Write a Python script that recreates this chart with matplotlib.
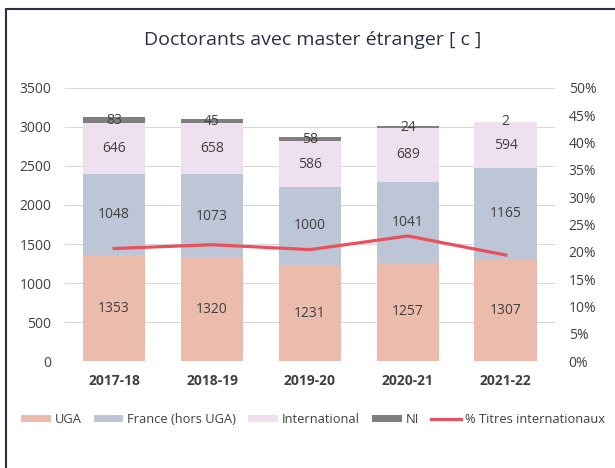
import matplotlib.pyplot as plt
from matplotlib.patches import Rectangle
import numpy as np

plt.rcParams['font.family'] = ['Open Sans', 'DejaVu Sans']

years = ['2017-18', '2018-19', '2019-20', '2020-21', '2021-22']
uga = [1353, 1320, 1231, 1257, 1307]
france = [1048, 1073, 1000, 1041, 1165]
international = [646, 658, 586, 689, 594]
ni = [83, 45, 58, 24, 2]
pct_intl = [0.206, 0.213, 0.204, 0.229, 0.194]

c_uga = '#ebbbab'
c_fr = '#bcc6d6'
c_int = '#eee0ee'
c_ni = '#7f7f7f'
c_line = '#e8505b'
txt = '#404040'

fig = plt.figure(figsize=(6.15, 4.68), dpi=100)
ax = fig.add_axes([0.106, 0.2286, 0.796, 0.5834])

x = np.arange(len(years))
w = 0.64
b1 = np.array(uga)
b2 = b1 + np.array(france)
b3 = b2 + np.array(international)

ax.bar(x, uga, w, color=c_uga, label='UGA', zorder=2)
ax.bar(x, france, w, bottom=b1, color=c_fr, label='France (hors UGA)', zorder=2)
ax.bar(x, international, w, bottom=b2, color=c_int, label='International', zorder=2)
ax.bar(x, ni, w, bottom=b3, color=c_ni, label='NI', zorder=2)

# value labels in each segment
fs = 10
for i in range(len(years)):
    ax.text(x[i], uga[i] / 2, str(uga[i]), ha='center', va='center', fontsize=fs, color=txt, zorder=3)
    ax.text(x[i], b1[i] + france[i] / 2, str(france[i]), ha='center', va='center', fontsize=fs, color=txt, zorder=3)
    ax.text(x[i], b2[i] + international[i] / 2, str(international[i]), ha='center', va='center', fontsize=fs, color=txt, zorder=3)
    ax.text(x[i], b3[i] + ni[i] / 2, str(ni[i]), ha='center', va='center', fontsize=fs, color=txt, zorder=3)

ax.set_ylim(0, 3500)
ax.set_yticks(range(0, 3501, 500))
ax.set_xlim(-0.5, 4.5)
ax.set_xticks(x)
ax.set_xticklabels(years, fontweight='bold', fontsize=10, color=txt)
ax.tick_params(axis='both', length=0, colors=txt, labelsize=10)
ax.tick_params(axis='y', pad=10)
ax.tick_params(axis='x', pad=9)
ax.grid(axis='y', color='#d9d9d9', linewidth=0.8, zorder=0)
for s in ax.spines.values():
    s.set_visible(False)

ax2 = ax.twinx()
ax2.plot(x, pct_intl, color=c_line, linewidth=2.3, label='% Titres internationaux', zorder=4)
ax2.set_ylim(0, 0.5)
ax2.set_yticks(np.arange(0, 0.51, 0.05))
ax2.set_yticklabels([f'{int(round(v * 100))}%' for v in np.arange(0, 0.51, 0.05)])
ax2.tick_params(axis='y', length=0, colors=txt, labelsize=10, pad=10)
for s in ax2.spines.values():
    s.set_visible(False)

fig.text(0.509, 0.914, 'Doctorants avec master étranger [ c ]', ha='center', va='center',
         fontsize=14, color='#2b2f4a')

h1, l1 = ax.get_legend_handles_labels()
h2, l2 = ax2.get_legend_handles_labels()
fig.legend(h1 + h2, l1 + l2, loc='center left', bbox_to_anchor=(0.034, 0.103), ncol=5, frameon=False,
           fontsize=9.3, handlelength=2.3, handleheight=0.45, columnspacing=0.95, handletextpad=0.3,
           labelcolor=txt, borderaxespad=0, borderpad=0)

# frame around the figure
fig.patches.append(Rectangle((0.0098, -0.1), 1.1, 1.081, transform=fig.transFigure,
                             fill=False, edgecolor='#2b2f4a', linewidth=1.5, clip_on=False))

fig.savefig('out.png', dpi=100)
